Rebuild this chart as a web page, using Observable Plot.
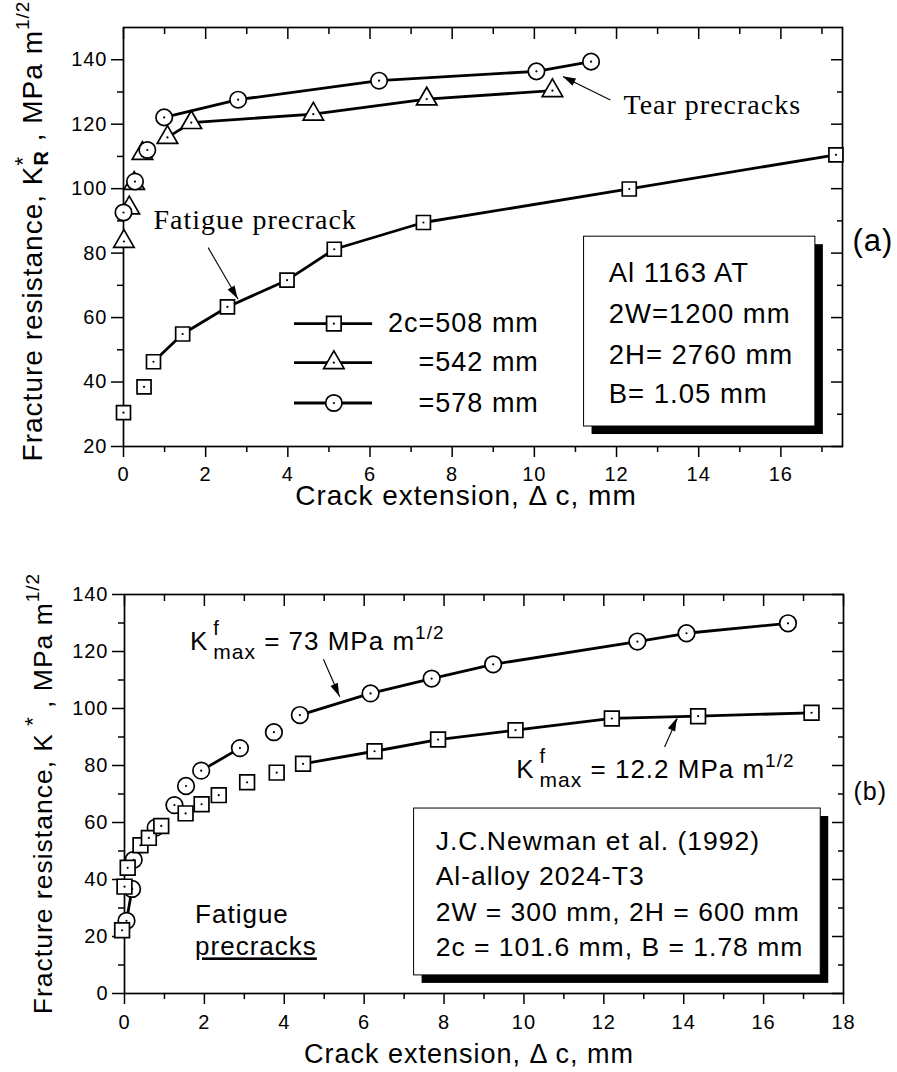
<!DOCTYPE html>
<html>
<head>
<meta charset="utf-8">
<script src="https://cdn.jsdelivr.net/npm/d3@7"></script>
<script src="https://cdn.jsdelivr.net/npm/@observablehq/plot@0.6"></script>
<style>
html, body { margin: 0; padding: 0; background: #fff; overflow: hidden; }
#chart { width: 897px; }
#chart svg { display: block; }
</style>
</head>
<body>
<div id="chart"></div>
<script>
// ---------- Panel (a): Al 1163 AT, R-curves (Δc in mm, K in MPa m^1/2) ----------
const a508X = [0, 0.50, 0.73, 1.44, 2.53, 3.98, 5.13, 7.30, 12.31, 17.34];
const a508Y = [30.5, 38.5, 46.3, 54.9, 63.3, 71.6, 81.2, 89.5, 99.9, 110.5];
const a508Seg = [1, 2, 3, 3, 3, 3, 3, 3, 3, 3];

const a542X = [0.01, 0.14, 0.26, 0.46, 1.07, 1.65, 4.62, 7.38, 10.44];
const a542Y = [83.6, 94.0, 101.6, 110.9, 115.9, 120.5, 123.1, 127.8, 130.4];
const a542Seg = [1, 2, 3, 4, 5, 5, 5, 5, 5];

const a578X = [0, 0.28, 0.58, 0.99, 2.79, 6.22, 10.05, 11.38];
const a578Y = [92.6, 102.2, 112.0, 122.1, 127.6, 133.5, 136.4, 139.4];
const a578Seg = [1, 2, 3, 4, 4, 4, 4, 4];

const aLegendLabels = ["2c=508 mm", "=542 mm", "=578 mm"];
const aBoxLines = ["Al 1163 AT", "2W=1200 mm", "2H= 2760 mm", "B= 1.05 mm"];

// ---------- Panel (b): Newman et al. (1992), 2024-T3 ----------
const b73X = [0.05, 0.19, 0.23, 0.78, 1.25, 1.54, 1.92, 2.89, 3.74, 4.39, 6.16, 7.69, 9.23, 12.84, 14.07, 16.61];
const b73Y = [25.5, 36.7, 46.9, 58.2, 66.1, 72.8, 78.2, 86.1, 91.7, 97.7, 105.3, 110.5, 115.5, 123.5, 126.4, 129.9];
const b73Seg = [1, 1, 2, 2, 3, 4, 5, 5, 6, 7, 7, 7, 7, 7, 7, 7];

const b122X = [-0.06, 0, 0.08, 0.40, 0.61, 0.92, 1.53, 1.93, 2.36, 3.07, 3.81, 4.47, 6.26, 7.85, 9.79, 12.20, 14.36, 17.20];
const b122Y = [22.2, 37.5, 44.1, 52.0, 54.6, 58.8, 63.2, 66.4, 69.6, 74.1, 77.5, 80.6, 85.0, 89.1, 92.4, 96.5, 97.3, 98.5];
const b122Seg = [1, 2, 3, 4, 5, 6, 7, 8, 9, 10, 11, 12, 12, 12, 12, 12, 12, 12];

const bBoxLines = ["J.C.Newman et al. (1992)", "Al-alloy 2024-T3", "2W = 300 mm, 2H = 600 mm", "2c = 101.6 mm, B = 1.78 mm"];

// tick values
const aXMajor = [0, 2, 4, 6, 8, 10, 12, 14, 16];
const aXMinor = [1, 3, 5, 7, 9, 11, 13, 15, 17];
const aYMajor = [20, 40, 60, 80, 100, 120, 140];
const aYMinor = [30, 50, 70, 90, 110, 130];
const bXMajor = [0, 2, 4, 6, 8, 10, 12, 14, 16, 18];
const bXMinor = [1, 3, 5, 7, 9, 11, 13, 15, 17];
const bYMajor = [0, 20, 40, 60, 80, 100, 120, 140];
const bYMinor = [10, 30, 50, 70, 90, 110, 130];

// ---------- annotation placement (data coordinates) ----------
const aLegend = {x1: 4.15, x2: 6.05, xm: 5.12, xText: 10.11, y: [58.1, 46.0, 33.5]};
const aBox = {x1: 11.21, x2: 16.84, y1: 26.2, y2: 85.1, xText: 11.81, yText: [70.9, 58.2, 45.7, 33.6]};
const aArrows = [{x1: 11.85, y1: 127.5, x2: 10.70, y2: 134.7}, {x1: 2.06, y1: 81.7, x2: 2.79, y2: 65.7}];
const aNotes = [{x: 12.17, y: 123.1, t: "Tear precracks"}, {x: 0.73, y: 87.5, t: "Fatigue precrack"}];

const bBox = {x1: 7.25, x2: 17.43, y1: 6.35, y2: 64.9, xText: 7.79, yText: [50.5, 37.9, 25.5, 13.2]};
const bArrows = [{x1: 4.98, y1: 117.3, x2: 5.39, y2: 104.1}, {x1: 13.52, y1: 86.5, x2: 13.84, y2: 96.5}];
const bK73 = {x: 1.65, y: 120.3, value: " = 73 MPa m"};
const bK122 = {x: 9.82, y: 75.5, value: " = 12.2 MPa m"};
const bFatigue = {x: 1.78, y1: 24.4, y2: 13.2};

const SANS = "'Liberation Sans', Arial, Helvetica, sans-serif";
const SERIF = "'Liberation Serif', 'Times New Roman', Times, serif";

const rows = (X, Y, S) => X.map((x, i) => ({x, y: Y[i], s: S[i]}));

function series(data, symbol, r) {
  return [
    Plot.line(data, {x: "x", y: "y", z: "s", stroke: "black", strokeWidth: 2.8, strokeLinecap: "butt"}),
    Plot.dot(data, {x: "x", y: "y", symbol, r, fill: "white", stroke: "black", strokeWidth: 1.7}),
    Plot.dot(data, {x: "x", y: "y", r: 1.1, fill: "black"})
  ];
}

function axes(xMaj, xMin, yMaj, yMin, fs, xPad) {
  const sw = 1.5, none = () => "";
  return [
    Plot.axisX({anchor: "bottom", ticks: xMaj, tickSize: 11, tickPadding: xPad, fontSize: fs, strokeWidth: sw, label: null}),
    Plot.axisX({anchor: "bottom", ticks: xMin, tickSize: 6, tickFormat: none, strokeWidth: sw, label: null}),
    Plot.axisX({anchor: "top", ticks: xMaj, tickSize: 11, dy: 11, tickFormat: none, strokeWidth: sw, label: null}),
    Plot.axisX({anchor: "top", ticks: xMin, tickSize: 6, dy: 6, tickFormat: none, strokeWidth: sw, label: null}),
    Plot.axisY({anchor: "left", ticks: yMaj, tickSize: 12, tickPadding: 4, fontSize: fs, strokeWidth: sw, label: null}),
    Plot.axisY({anchor: "left", ticks: yMin, tickSize: 6, tickFormat: none, strokeWidth: sw, label: null}),
    Plot.axisY({anchor: "right", ticks: yMaj, tickSize: 12, dx: -12, tickFormat: none, strokeWidth: sw, label: null}),
    Plot.axisY({anchor: "right", ticks: yMin, tickSize: 6, dx: -6, tickFormat: none, strokeWidth: sw, label: null}),
    Plot.frame({stroke: "black", strokeWidth: 1.7})
  ];
}

function boxMarks(box, lines, fs) {
  return [
    Plot.rect([box], {x1: "x1", x2: "x2", y1: "y1", y2: "y2", fill: "black", dx: 8, dy: 8}),
    Plot.rect([box], {x1: "x1", x2: "x2", y1: "y1", y2: "y2", fill: "white", stroke: "black", strokeWidth: 1}),
    Plot.text(lines, {x: box.xText, y: (d, i) => box.yText[i], text: d => d, textAnchor: "start", lineAnchor: "bottom", fontSize: fs, fill: "black"})
  ];
}

const style = {fontFamily: SANS, fontSize: "20px", color: "black", background: "white", letterSpacing: "1px", overflow: "visible"};

// ---------- Panel (a) ----------
const legendRowsA = aLegendLabels.map((t, i) => ({t, y: aLegend.y[i]}));
const legendSymbols = ["square", "triangle", "circle"];
const chartA = Plot.plot({
  width: 897, height: 540,
  marginLeft: 123, marginRight: 55, marginTop: 27, marginBottom: 94,
  x: {domain: [0, 17.5], label: null},
  y: {domain: [20, 150], label: null},
  style,
  marks: [
    ...axes(aXMajor, aXMinor, aYMajor, aYMinor, 20, 9),
    Plot.text(["Crack extension, \u0394 c, mm"], {frameAnchor: "bottom", text: d => d, dy: 58, dx: -17, lineAnchor: "bottom", fontSize: 28}),
    Plot.text(["(a)"], {frameAnchor: "right", text: d => d, dx: 10, dy: 4, textAnchor: "start", lineAnchor: "middle", fontSize: 31}),
    Plot.link(aArrows, {x1: "x1", y1: "y1", x2: "x2", y2: "y2", stroke: "black", strokeWidth: 1.1}),
    Plot.text(aNotes, {x: "x", y: "y", text: "t", textAnchor: "start", lineAnchor: "bottom", fontFamily: SERIF, fontSize: 28, letterSpacing: 0}),
    ...series(rows(a508X, a508Y, a508Seg), "square", 7.9),
    ...series(rows(a542X, a542Y, a542Seg), "triangle", 7.6),
    ...series(rows(a578X, a578Y, a578Seg), "circle", 8.2),
    Plot.link(legendRowsA, {x1: aLegend.x1, x2: aLegend.x2, y1: "y", y2: "y", stroke: "black", strokeWidth: 2.8}),
    ...legendRowsA.map((r, i) => Plot.dot([r], {x: aLegend.xm, y: "y", symbol: legendSymbols[i], r: i === 1 ? 7.6 : 8.2, fill: "white", stroke: "black", strokeWidth: 1.7})),
    Plot.dot(legendRowsA, {x: aLegend.xm, y: "y", r: 1.1, fill: "black"}),
    Plot.text(legendRowsA, {x: aLegend.xText, y: "y", text: "t", textAnchor: "end", lineAnchor: "middle", fontSize: 27}),
    ...boxMarks(aBox, aBoxLines, 27.5)
  ]
});

// ---------- Panel (b) ----------
const chartB = Plot.plot({
  width: 897, height: 532,
  marginLeft: 124, marginRight: 54, marginTop: 54, marginBottom: 79,
  x: {domain: [0, 18], label: null},
  y: {domain: [0, 140], label: null},
  style,
  marks: [
    ...axes(bXMajor, bXMinor, bYMajor, bYMinor, 20, 10),
    Plot.text(["Crack extension, \u0394 c, mm"], {frameAnchor: "bottom", text: d => d, dy: 69, dx: -15, lineAnchor: "bottom", fontSize: 27}),
    Plot.text(["(b)"], {frameAnchor: "right", text: d => d, dx: 10, dy: -2, textAnchor: "start", lineAnchor: "middle", fontSize: 25}),
    Plot.link(bArrows, {x1: "x1", y1: "y1", x2: "x2", y2: "y2", stroke: "black", strokeWidth: 1.1}),
    ...series(rows(b73X, b73Y, b73Seg), "circle", 8.3),
    ...series(rows(b122X, b122Y, b122Seg), "square", 8.3),
    ...boxMarks(bBox, bBoxLines, 26.5)
  ]
});

const root = document.getElementById("chart");
root.append(chartA, chartB);

// ---------- rich text (sub/superscripts) and filled arrow heads ----------
function rich(svg, px, py, parts, o = {}) {
  const size = o.size || 24;
  const g = d3.select(svg).append("g")
    .attr("transform", `translate(${px},${py}) rotate(${o.rotate || 0})`)
    .attr("font-family", o.family || SANS).attr("fill", "black")
    .attr("text-anchor", "start");
  const inner = g.append("g");
  let cx = 0, prevStart = 0;
  for (const p of parts) {
    const start = p.same ? prevStart : cx + (p.dx || 0);
    const t = inner.append("text").attr("x", start).attr("y", p.dy || 0)
      .attr("text-anchor", "start")
      .attr("font-size", p.size || size).style("white-space", "pre").text(p.t);
    if (p.bold) t.attr("font-weight", "bold");
    if (p.underline) t.style("text-decoration", "underline");
    const w = t.node().getComputedTextLength();
    cx = p.same ? Math.max(cx, start + w) : start + w;
    prevStart = start;
  }
  if (o.anchor === "middle") inner.attr("transform", `translate(${-cx / 2},0)`);
  return cx;
}

function heads(svg, arrows, L, H) {
  const sx = svg.scale("x"), sy = svg.scale("y");
  for (const a of arrows) {
    const x1 = sx.apply(a.x1), y1 = sy.apply(a.y1), x2 = sx.apply(a.x2), y2 = sy.apply(a.y2);
    const ang = Math.atan2(y2 - y1, x2 - x1);
    const bx = x2 - L * Math.cos(ang), by = y2 - L * Math.sin(ang);
    const nx = -Math.sin(ang) * H, ny = Math.cos(ang) * H;
    d3.select(svg).append("path")
      .attr("d", `M${x2},${y2}L${bx + nx},${by + ny}L${bx - nx},${by - ny}Z`)
      .attr("fill", "black");
  }
}

heads(chartA, aArrows, 13, 4);
heads(chartB, bArrows, 13, 4);

// y-axis labels
rich(chartA, 42, 231, [
  {t: "Fracture resistance, K"},
  {t: "*", dy: -12, size: 22},
  {t: "R", dy: 6, size: 20, bold: true, same: true},
  {t: " , MPa m"},
  {t: "1/2", dy: -13, size: 19}
], {rotate: -90, anchor: "middle", size: 28});

rich(chartB, 52, 253.5, [
  {t: "Fracture resistance, K"},
  {t: " *", dy: -12, size: 22},
  {t: " , MPa m"},
  {t: "1/2", dy: -13, size: 19}
], {rotate: -90, anchor: "middle", size: 26.5});

// K^f_max annotations in (b)
const sxB = chartB.scale("x"), syB = chartB.scale("y");
for (const k of [bK73, bK122]) {
  rich(chartB, sxB.apply(k.x), syB.apply(k.y), [
    {t: "K"},
    {t: "f", dx: 5, dy: -15, size: 20},
    {t: "max", dy: 9, size: 21, same: true},
    {t: k.value},
    {t: "1/2", dy: -11, size: 19}
  ], {size: 26});
}

// "Fatigue precracks" in (b)
rich(chartB, sxB.apply(bFatigue.x), syB.apply(bFatigue.y1), [{t: "Fatigue"}], {size: 26});
rich(chartB, sxB.apply(bFatigue.x), syB.apply(bFatigue.y2), [{t: "precracks", underline: true}], {size: 26});
</script>
</body>
</html>
